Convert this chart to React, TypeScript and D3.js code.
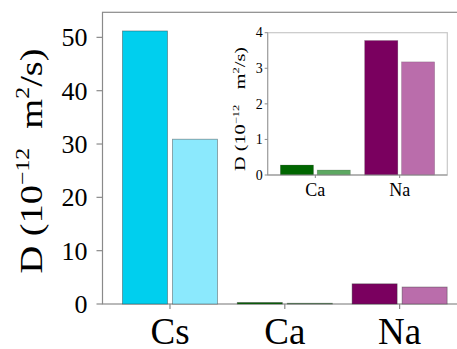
import * as d3 from "d3";

const categories = ["Cs", "Ca", "Na"];
const seriesA = [51.2, 0.28, 3.78];
const seriesB = [30.9, 0.14, 3.18];
const colorsA = ["#00CFEE", "#006600", "#7A005F"];
const colorsB = ["#8BE9FD", "#5DA862", "#BA6DAB"];
const yTicks = [0, 10, 20, 30, 40, 50];

const insetCategories = ["Ca", "Na"];
const insetTicks = [0, 1, 2, 3, 4];

const W = 457;
const H = 349;
const serif = "Liberation Serif";

function AxisLabel({ x, y, size, scaleX, gap }) {
  // D (10^-12 m^2/s), rotated, a bit stretched along the text
  return (
    <text
      transform={`translate(${x},${y}) rotate(-90) scale(${scaleX},1)`}
      textAnchor="middle"
      style={{ fontFamily: serif, fontSize: size }}
      fill="#000"
    >
      <tspan>D (10</tspan>
      <tspan style={{ fontSize: size * 0.62 }} dy={-size * 0.4}>−12</tspan>
      <tspan dy={size * 0.4} dx={gap}>m</tspan>
      <tspan style={{ fontSize: size * 0.62 }} dy={-size * 0.4}>2</tspan>
      <tspan dy={size * 0.4}>/s)</tspan>
    </text>
  );
}

export default function App() {
  // main plot
  const left = 102.5, top = 12.3, bottom = 304, right = 460;
  const x0 = d3.scaleBand(categories, [112.6, 457]).paddingInner(0.1725).paddingOuter(0.086);
  const x1 = d3.scaleBand(["a", "b"], [0, x0.bandwidth()]).paddingInner(0.1);
  const y = d3.scaleLinear([0, 54.7], [bottom, top]);

  // inset
  const iL = 267.7, iR = 447.3, iT = 32.7, iB = 175;
  const ix0 = d3.scaleBand(insetCategories, [iL, iR]).paddingInner(0.17).paddingOuter(0.15);
  const ix1 = d3.scaleBand(["a", "b"], [0, ix0.bandwidth()]).paddingInner(0.1);
  const iy = d3.scaleLinear([0, 4], [iB, iT]);

  const insetIdx = insetCategories.map((c) => categories.indexOf(c));
  const font = (s) => ({ fontFamily: serif, fontSize: s });

  return (
    <svg width={W} height={H} style={{ position: "absolute", left: 0, top: 0, background: "#fff" }}>
      {/* main frame */}
      <rect x={left} y={top} width={right - left} height={bottom - top} fill="none" stroke="#8a8a8a" strokeWidth={1.2} />

      {/* main bars */}
      {categories.map((c, i) => (
        <g key={c} transform={`translate(${x0(c)},0)`}>
          <rect x={x1("a")} y={y(seriesA[i])} width={x1.bandwidth()} height={y(0) - y(seriesA[i])}
            fill={colorsA[i]} stroke="#333" strokeOpacity={0.5} strokeWidth={0.8} />
          <rect x={x1("b")} y={y(seriesB[i])} width={x1.bandwidth()} height={y(0) - y(seriesB[i])}
            fill={colorsB[i]} stroke="#333" strokeOpacity={0.5} strokeWidth={0.8} />
        </g>
      ))}

      {/* main y ticks */}
      {yTicks.map((t) => (
        <g key={t} transform={`translate(${left},${y(t)})`}>
          <line x1={-6} x2={0} stroke="#8a8a8a" strokeWidth={1.2} />
          <text x={-15} dy="0.34em" textAnchor="end" style={font(26)} fill="#000">{t}</text>
        </g>
      ))}

      {/* main x ticks */}
      {categories.map((c) => {
        const cx = x0(c) + x0.bandwidth() / 2;
        return (
          <g key={c} transform={`translate(${cx},${bottom})`}>
            <line y1={0} y2={5} stroke="#8a8a8a" strokeWidth={1.2} />
            <text y={40} textAnchor="middle" style={font(37)} fill="#000">{c}</text>
          </g>
        );
      })}

      <AxisLabel x={42} y={161} size={32} scaleX={1.2} gap={16} />

      {/* inset */}
      <rect x={iL} y={iT} width={iR - iL} height={iB - iT} fill="#fff" stroke="#c8c8c8" strokeWidth={1.2} />
      {insetCategories.map((c, j) => {
        const i = insetIdx[j];
        return (
          <g key={c} transform={`translate(${ix0(c)},0)`}>
            <rect x={ix1("a")} y={iy(seriesA[i])} width={ix1.bandwidth()} height={iy(0) - iy(seriesA[i])}
              fill={colorsA[i]} stroke="#333" strokeOpacity={0.3} strokeWidth={0.6} />
            <rect x={ix1("b")} y={iy(seriesB[i])} width={ix1.bandwidth()} height={iy(0) - iy(seriesB[i])}
              fill={colorsB[i]} stroke="#333" strokeOpacity={0.3} strokeWidth={0.6} />
          </g>
        );
      })}
      <line x1={iL} x2={iR} y1={iB} y2={iB} stroke="#8a8a8a" strokeWidth={1} />
      <line x1={iL} x2={iL} y1={iT} y2={iB} stroke="#9a9a9a" strokeWidth={1} />
      {insetTicks.map((t) => (
        <g key={t} transform={`translate(${iL},${iy(t)})`}>
          <line x1={-3} x2={0} stroke="#8a8a8a" />
          <text x={-5} dy="0.34em" textAnchor="end" style={font(14)} fill="#000">{t}</text>
        </g>
      ))}
      {insetCategories.map((c) => {
        const cx = ix0(c) + ix0.bandwidth() / 2;
        return (
          <g key={c} transform={`translate(${cx},${iB})`}>
            <line y1={0} y2={3} stroke="#8a8a8a" />
            <text y={21} textAnchor="middle" style={font(18)} fill="#000">{c}</text>
          </g>
        );
      })}
      <AxisLabel x={245} y={109} size={14.5} scaleX={1.4} gap={11} />
    </svg>
  );
}
